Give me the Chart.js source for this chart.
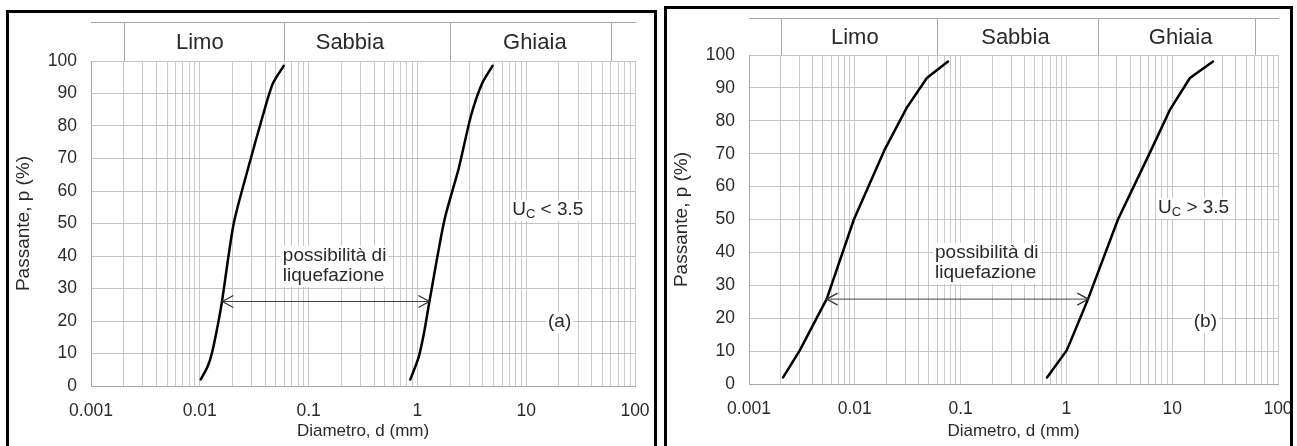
<!DOCTYPE html>
<html><head><meta charset="utf-8">
<script src="https://cdn.jsdelivr.net/npm/chart.js@4"></script>
<style>
body{margin:0;background:#fff;width:1297px;height:446px;overflow:hidden;position:relative}
.panel{position:absolute;border:3px solid #000;box-sizing:border-box;background:#fff}
#pa{left:6px;top:10px;width:651px;height:452px}
#pb{left:664px;top:6px;width:629px;height:452px}
canvas{position:absolute;left:0;top:0}
</style></head><body>
<div class="panel" id="pa"><canvas id="ca" width="645" height="433" style="width:645px;height:433px"></canvas></div>
<div class="panel" id="pb"><canvas id="cb" width="623" height="437" style="width:623px;height:437px"></canvas></div>
<script>
// ---- data ----
const decades = [0.001, 0.01, 0.1, 1, 10, 100];
const tickLabels = ['0.001', '0.01', '0.1', '1', '10', '100'];
const yTickStep = 10;
const zoneNames = ['Limo', 'Sabbia', 'Ghiaia'];
const zoneBounds = [0.002, 0.06, 2, 60];
const zoneLabelPosA = [0.01, 0.24, 12];
const zoneLabelPosB = [0.01, 0.33, 12];

// (a) Uc < 3.5
const aFineD = [0.0102, 0.0118, 0.0129, 0.0143, 0.0159, 0.0205, 0.0278, 0.0378, 0.0468, 0.059];
const aFineP = [2, 6, 10, 17, 25.5, 50, 67, 83, 93, 98.5];
const aCoarseD = [0.86, 0.97, 1.04, 1.16, 1.29, 1.77, 2.4, 3.1, 3.92, 4.9];
const aCoarseP = [2, 6.5, 9.5, 17, 26, 51, 67, 83, 93, 98.5];
const aArrowD = [0.0161, 1.29];
const aArrowP = [26, 26];

// (b) Uc > 3.5
const bFineD = [0.0021, 0.00303, 0.00443, 0.00542, 0.0098, 0.0190, 0.031, 0.048, 0.076];
const bFineP = [2, 10.3, 20.5, 25.8, 50, 71, 84, 93, 98];
const bCoarseD = [0.656, 1.01, 1.37, 1.6, 3.07, 6.3, 9.5, 14.7, 24.3];
const bCoarseP = [2, 10.3, 20.5, 25.8, 50, 71, 83.3, 93, 98];
const bArrowD = [0.00542, 1.61];
const bArrowP = [25.8, 25.8];

// ---- helpers ----
Chart.defaults.font.family = '"Liberation Sans", Arial, sans-serif';
Chart.defaults.color = '#2a2a2a';
const pts = (xs, ys) => xs.map((v, i) => ({x: v, y: ys[i]}));
const gridVals = [];
decades.forEach((d, i) => {
  if (i < decades.length - 1) { for (let k = 1; k <= 9; k++) gridVals.push(+(d * k).toPrecision(6)); }
  else gridVals.push(d);
});
const labelFor = v => {
  const i = decades.findIndex(d => Math.abs(Math.log10(d) - Math.log10(v)) < 1e-6);
  return i >= 0 ? tickLabels[i] : '';
};

function curve(xs, ys, tension) {
  return {data: pts(xs, ys), showLine: true, borderColor: '#000', borderWidth: 2.5,
          pointRadius: 0, tension: tension, fill: false, borderJoinStyle: 'round', borderCapStyle: 'round'};
}
function arrow(xs, ys) {
  return {data: pts(xs, ys), showLine: true, borderColor: '#444', borderWidth: 1,
          pointRadius: 0, tension: 0, fill: false, isArrow: true};
}

function drawAnn(ctx, x, y, a) {
  const big = '19px "Liberation Sans", Arial, sans-serif';
  const small = '13px "Liberation Sans", Arial, sans-serif';
  const lines = a.lines;
  const lh = 20;
  const widths = lines.map(segs => segs.reduce((w, s) => { ctx.font = s.sub ? small : big; return w + ctx.measureText(s.t).width; }, 0));
  const maxW = Math.max(...widths);
  const px = x.getPixelForValue(a.d);
  const py = y.getPixelForValue(a.p);
  const left = a.align === 'center' ? px - maxW / 2 : px;
  ctx.fillStyle = '#fff';
  ctx.fillRect(left - 2, py - 15, maxW + 4, lh * (lines.length - 1) + 21);
  ctx.fillStyle = '#2a2a2a';
  ctx.textAlign = 'left'; ctx.textBaseline = 'alphabetic';
  lines.forEach((segs, li) => {
    let cx = a.align === 'center' ? px - widths[li] / 2 : px;
    segs.forEach(s => {
      ctx.font = s.sub ? small : big;
      ctx.fillText(s.t, cx, py + li * lh + (s.sub ? 3 : 0));
      cx += ctx.measureText(s.t).width;
    });
  });
}

function extras(cfg) {
  return {
    id: 'extras',
    beforeDatasetsDraw(chart) {
      const {ctx, chartArea: ca} = chart;
      const x = chart.scales.x, y = chart.scales.y;
      ctx.save();
      const top = ca.top - cfg.headerH;
      ctx.strokeStyle = '#a8a8a8'; ctx.lineWidth = 1;
      ctx.beginPath();
      ctx.moveTo(ca.left, Math.round(top) + 0.5); ctx.lineTo(ca.right + 1, Math.round(top) + 0.5);
      zoneBounds.forEach(b => {
        const p = Math.round(x.getPixelForValue(b)) + 0.5;
        ctx.moveTo(p, top); ctx.lineTo(p, ca.top);
      });
      ctx.stroke();
      ctx.fillStyle = '#2a2a2a';
      ctx.font = '22px "Liberation Sans", Arial, sans-serif';
      ctx.textAlign = 'center'; ctx.textBaseline = 'middle';
      zoneNames.forEach((n, i) => ctx.fillText(n, x.getPixelForValue(cfg.zonePos[i]), top + cfg.headerH / 2 + 1));
      cfg.anns.forEach(a => drawAnn(ctx, x, y, a));
      ctx.restore();
    },
    afterDatasetsDraw(chart) {
      const ctx = chart.ctx;
      chart.data.datasets.forEach((ds, i) => {
        if (!ds.isArrow) return;
        const m = chart.getDatasetMeta(i).data;
        const p0 = m[0], p1 = m[m.length - 1];
        ctx.save();
        ctx.strokeStyle = '#333'; ctx.lineWidth = 1.3;
        ctx.beginPath();
        ctx.moveTo(p0.x + 11, p0.y - 6); ctx.lineTo(p0.x, p0.y); ctx.lineTo(p0.x + 11, p0.y + 6);
        ctx.moveTo(p1.x - 11, p1.y - 6); ctx.lineTo(p1.x, p1.y); ctx.lineTo(p1.x - 11, p1.y + 6);
        ctx.stroke();
        ctx.restore();
      });
    }
  };
}

function makeChart(id, datasets, cfg) {
  return new Chart(document.getElementById(id), {
    type: 'scatter',
    data: {datasets},
    options: {
      responsive: false, animation: false, devicePixelRatio: 1,
      layout: {padding: {left: 0, top: cfg.padTop, right: cfg.padRight, bottom: 0}},
      plugins: {legend: {display: false}, tooltip: {enabled: false}},
      scales: {
        x: {
          type: 'logarithmic', min: decades[0], max: decades[decades.length - 1], position: 'bottom',
          afterBuildTicks: s => { s.ticks = gridVals.map(v => ({value: v})); },
          afterFit: s => { s.height = cfg.xH; s.paddingLeft = 0; s.paddingRight = 0; },
          ticks: {autoSkip: false, maxRotation: 0, minRotation: 0, padding: 15, font: {size: 17.5}, color: '#2a2a2a',
                  callback: v => labelFor(v)},
          grid: {color: '#cacaca', drawTicks: false, lineWidth: 1},
          border: {color: '#a8a8a8'},
          title: {display: true, text: 'Diametro, d (mm)', font: {size: 17}, color: '#2a2a2a', padding: {top: 0, bottom: 4}}
        },
        y: {
          min: 0, max: 100,
          afterFit: s => { s.width = 82; s.paddingTop = 0; s.paddingBottom = 0; },
          ticks: {stepSize: yTickStep, padding: 14, font: {size: 17.5}, color: '#2a2a2a'},
          grid: {color: '#c4c4c4', drawTicks: false, lineWidth: 1},
          border: {color: '#a8a8a8'},
          title: {display: true, text: 'Passante, p (%)', font: {size: 19}, color: '#2a2a2a', padding: {top: 3, bottom: 0}}
        }
      }
    },
    plugins: [extras(cfg)]
  });
}

const liq = [[{t: 'possibilità di'}], [{t: 'liquefazione'}]];

makeChart('ca', [curve(aFineD, aFineP, 0.25), curve(aCoarseD, aCoarseP, 0.25), arrow(aArrowD, aArrowP)], {
  padTop: 48, padRight: 19, xH: 60, headerH: 39, zonePos: zoneLabelPosA,
  anns: [
    {lines: liq, d: 0.058, p: 38.5, align: 'left'},
    {lines: [[{t: 'U'}, {t: 'C', sub: true}, {t: ' < 3.5'}]], d: 7.44, p: 52.6, align: 'left'},
    {lines: [[{t: '(a)'}]], d: 20.3, p: 18.2, align: 'center'}
  ]
});
makeChart('cb', [curve(bFineD, bFineP, 0), curve(bCoarseD, bCoarseP, 0), arrow(bArrowD, bArrowP)], {
  padTop: 46, padRight: 12, xH: 62, headerH: 37, zonePos: zoneLabelPosB,
  anns: [
    {lines: liq, d: 0.0573, p: 38.3, align: 'left'},
    {lines: [[{t: 'U'}, {t: 'C', sub: true}, {t: ' > 3.5'}]], d: 7.34, p: 52, align: 'left'},
    {lines: [[{t: '(b)'}]], d: 20.6, p: 17.3, align: 'center'}
  ]
});
</script>
</body></html>
